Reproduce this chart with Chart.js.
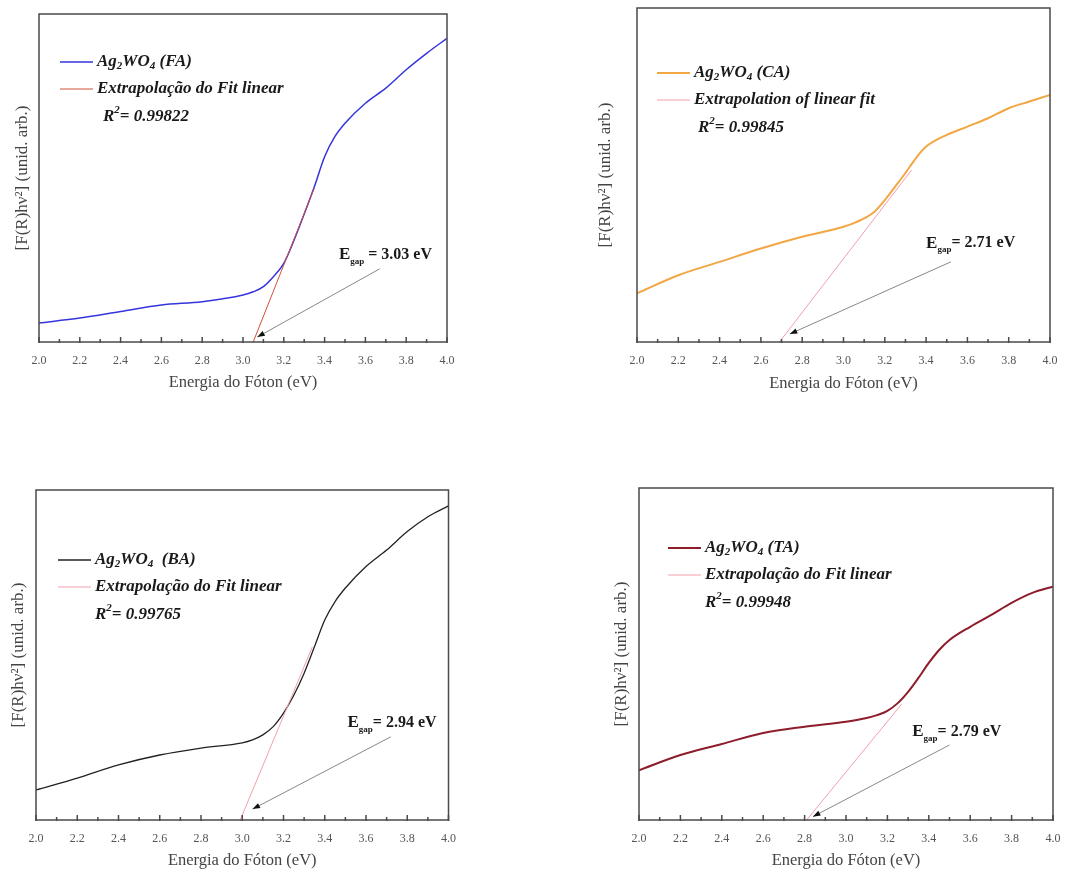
<!DOCTYPE html>
<html>
<head>
<meta charset="utf-8">
<title>Ag2WO4 - Tauc</title>
<script src="https://cdn.jsdelivr.net/npm/chart.js"></script>
<style>
  body { margin: 0; background: #fff; width: 1065px; height: 876px; position: relative; overflow: hidden; }
  canvas { position: absolute; }
</style>
</head>
<body>
<canvas id="cFA" width="460" height="400" style="left:0;top:0"></canvas>
<canvas id="cCA" width="485" height="400" style="left:580px;top:0"></canvas>
<canvas id="cBA" width="460" height="416" style="left:0;top:460px"></canvas>
<canvas id="cTA" width="485" height="416" style="left:580px;top:460px"></canvas>
<script>
// eixo x comum (eV)
const energyTicks = [2.0, 2.2, 2.4, 2.6, 2.8, 3.0, 3.2, 3.4, 3.6, 3.8, 4.0];

// FA
const faX = [2.0, 2.2, 2.4, 2.6, 2.8, 3.0, 3.05, 3.1, 3.15, 3.2, 3.25, 3.3, 3.35, 3.4, 3.45, 3.5, 3.6, 3.7, 3.8, 3.9, 4.0];
const faY = [5.8, 7.3, 9.3, 11.3, 12.3, 14.3, 15.3, 16.9, 20, 24, 31, 39, 47.4, 56.5, 62.6, 66.7, 72.8, 77.4, 83, 88, 92.6];
const faFitX = [3.05, 3.35];
const faFitY = [0, 47];
const faArrow = [[3.67, 22.3], [3.07, 1.5]];
const faLabelAt = [3.47, 26.5];

// CA
const caX = [2.0, 2.2, 2.4, 2.6, 2.8, 3.0, 3.05, 3.1, 3.15, 3.2, 3.25, 3.3, 3.35, 3.4, 3.45, 3.5, 3.6, 3.7, 3.8, 3.9, 4.0];
const caY = [14.6, 20, 24, 28, 31.5, 34.5, 35.6, 37, 39, 42.5, 46.5, 50.6, 55, 58.5, 60.5, 62, 64.5, 67, 70, 72, 74];
const caFitX = [2.69, 3.33];
const caFitY = [0, 51.5];
const caArrow = [[3.52, 24], [2.74, 2.4]];
const caLabelAt = [3.40, 29.6];

// BA
const baX = [2.0, 2.2, 2.4, 2.6, 2.8, 3.0, 3.05, 3.1, 3.15, 3.2, 3.25, 3.3, 3.35, 3.4, 3.45, 3.5, 3.6, 3.7, 3.8, 3.9, 4.0];
const baY = [9.1, 12.7, 16.7, 19.7, 21.8, 23.4, 24.3, 25.8, 28.3, 32.4, 37.8, 44.5, 52.5, 60.6, 66.2, 70.3, 76.8, 81.8, 87.4, 91.9, 95.2];
const baFitX = [2.99, 3.34];
const baFitY = [0, 52.5];
const baArrow = [[3.72, 25.2], [3.05, 3.3]];
const baLabelAt = [3.51, 29.4];

// TA
const taX = [2.0, 2.2, 2.4, 2.6, 2.8, 3.0, 3.1, 3.15, 3.2, 3.25, 3.3, 3.35, 3.4, 3.45, 3.5, 3.6, 3.7, 3.8, 3.9, 4.0];
const taY = [15, 19.6, 22.9, 26.2, 28.1, 29.6, 30.7, 31.6, 32.9, 35.2, 38.6, 42.8, 47.3, 51.2, 54.2, 58.2, 61.7, 65.4, 68.4, 70.3];
const taFitX = [2.81, 3.27];
const taFitY = [0, 35];
const taArrow = [[3.50, 22.6], [2.84, 1.0]];
const taLabelAt = [3.32, 26.6];

const SERIF = '"Liberation Serif", "Times New Roman", serif';
const bi = s => `italic bold ${s}px ${SERIF}`;
const bd = s => `bold ${s}px ${SERIF}`;

function pts(xs, ys) { return xs.map((v, i) => ({ x: v, y: ys[i] })); }

function drawRich(ctx, x, y, parts) {
  let cx = x;
  for (const p of parts) {
    ctx.font = p.f;
    ctx.fillText(p.t, cx, y + (p.dy || 0));
    cx += ctx.measureText(p.t).width;
  }
}

// moldura, ticks internos, legenda, R2, seta e rótulo do gap
const deco = {
  id: 'deco',
  afterDraw(chart, args, o) {
    const { ctx, chartArea: a, scales: { x, y } } = chart;
    ctx.save();
    ctx.strokeStyle = '#4a4a4a';
    ctx.lineWidth = 1.5;
    ctx.strokeRect(a.left, a.top, a.right - a.left, a.bottom - a.top);
    for (let v = 20; v <= 40; v++) {
      const px = x.getPixelForValue(v / 10);
      const len = v % 2 === 0 ? 5 : 3;
      ctx.beginPath();
      ctx.moveTo(px, a.bottom + 1);
      ctx.lineTo(px, a.bottom - len);
      ctx.stroke();
    }

    // legenda
    const ds = chart.data.datasets;
    const lx = a.left + o.leg[0], ly = a.top + o.leg[1];
    ctx.fillStyle = '#1a1a1a';
    ctx.textBaseline = 'middle';
    for (let i = 0; i < 2; i++) {
      const yy = ly + i * 27;
      ctx.strokeStyle = ds[i].borderColor;
      ctx.lineWidth = ds[i].borderWidth;
      ctx.beginPath();
      ctx.moveTo(lx, yy);
      ctx.lineTo(lx + 33, yy);
      ctx.stroke();
    }
    drawRich(ctx, lx + 37, ly, [
      { t: 'Ag', f: bi(17) }, { t: '2', f: bi(11), dy: 4 },
      { t: 'WO', f: bi(17) }, { t: '4', f: bi(11), dy: 4 },
      { t: o.tag, f: bi(17) }
    ]);
    drawRich(ctx, lx + 37, ly + 27, [{ t: o.fitText, f: bi(17) }]);
    drawRich(ctx, lx + o.r2dx, ly + 55, [
      { t: 'R', f: bi(17) }, { t: '2', f: bi(11), dy: -7 }, { t: o.r2, f: bi(17) }
    ]);

    // seta
    const x0 = x.getPixelForValue(o.arrow[0][0]), y0 = y.getPixelForValue(o.arrow[0][1]);
    const x1 = x.getPixelForValue(o.arrow[1][0]), y1 = y.getPixelForValue(o.arrow[1][1]);
    ctx.strokeStyle = '#888';
    ctx.lineWidth = 1;
    ctx.beginPath();
    ctx.moveTo(x0, y0);
    ctx.lineTo(x1, y1);
    ctx.stroke();
    const ang = Math.atan2(y1 - y0, x1 - x0);
    ctx.fillStyle = '#111';
    ctx.beginPath();
    ctx.moveTo(x1, y1);
    ctx.lineTo(x1 - 8 * Math.cos(ang - 0.35), y1 - 8 * Math.sin(ang - 0.35));
    ctx.lineTo(x1 - 8 * Math.cos(ang + 0.35), y1 - 8 * Math.sin(ang + 0.35));
    ctx.closePath();
    ctx.fill();

    // rótulo E_gap
    ctx.fillStyle = '#1a1a1a';
    drawRich(ctx, x.getPixelForValue(o.label[0]), y.getPixelForValue(o.label[1]), [
      { t: 'E', f: bd(17) }, { t: 'gap', f: bd(9), dy: 7 }, { t: o.egap, f: bd(16) }
    ]);
    ctx.restore();
  }
};

function makePanel(id, p) {
  new Chart(document.getElementById(id), {
    type: 'line',
    data: {
      datasets: [
        { data: pts(p.xs, p.ys), borderColor: p.color, borderWidth: p.width, pointRadius: 0,
          cubicInterpolationMode: 'monotone', order: 1 },
        { data: pts(p.fitX, p.fitY), borderColor: p.fitColor, borderWidth: 1, pointRadius: 0, order: 0 }
      ]
    },
    options: {
      responsive: false,
      animation: false,
      events: [],
      layout: { padding: p.pad },
      plugins: {
        legend: { display: false },
        tooltip: { enabled: false },
        deco: p.deco
      },
      scales: {
        x: {
          type: 'linear', min: 2, max: 4,
          afterBuildTicks: s => { s.ticks = energyTicks.map(v => ({ value: v })); },
          afterFit: s => { s.height = p.xh; },
          grid: { display: false },
          border: { display: false },
          ticks: { color: '#555', padding: 4, font: { family: SERIF, size: 12 }, maxRotation: 0,
                   callback: v => v.toFixed(1) },
          title: { display: true, text: 'Energia do Fóton (eV)', color: '#444',
                   font: { family: SERIF, size: 16.5 }, padding: { top: 0, bottom: p.xtp } }
        },
        y: {
          min: 0, max: 100,
          afterFit: s => { s.width = p.yw; },
          grid: { display: false },
          border: { display: false },
          ticks: { display: false },
          title: { display: true, text: '[F(R)hν²] (unid. arb.)', color: '#444',
                   font: { family: SERIF, size: 17 }, padding: { top: p.ytp, bottom: 0 } }
        }
      }
    },
    plugins: [deco]
  });
}

makePanel('cFA', {
  xs: faX, ys: faY, fitX: faFitX, fitY: faFitY, color: '#3535dd', width: 1.5, fitColor: '#d0503c',
  pad: { left: 0, top: 14, right: 13, bottom: 0 }, yw: 39, xh: 58, xtp: 7, ytp: 12,
  deco: { leg: [21, 48], tag: ' (FA)', fitText: 'Extrapolação do Fit linear', r2dx: 43, r2: '= 0.99822',
          arrow: faArrow, label: faLabelAt, egap: ' = 3.03 eV' }
});
makePanel('cCA', {
  xs: caX, ys: caY, fitX: caFitX, fitY: caFitY, color: '#f2a745', width: 2, fitColor: '#f0a0ac',
  pad: { left: 0, top: 8, right: 15, bottom: 0 }, yw: 57, xh: 58, xtp: 6, ytp: 15,
  deco: { leg: [20, 65], tag: ' (CA)', fitText: 'Extrapolation of linear fit', r2dx: 41, r2: '= 0.99845',
          arrow: caArrow, label: caLabelAt, egap: '= 2.71 eV' }
});
makePanel('cBA', {
  xs: baX, ys: baY, fitX: baFitX, fitY: baFitY, color: '#222', width: 1.3, fitColor: '#f2a0aa',
  pad: { left: 0, top: 30, right: 10, bottom: 0 }, yw: 36, xh: 56, xtp: 5, ytp: 8,
  deco: { leg: [22, 70], tag: '  (BA)', fitText: 'Extrapolação do Fit linear', r2dx: 37, r2: '= 0.99765',
          arrow: baArrow, label: baLabelAt, egap: '= 2.94 eV' }
});
makePanel('cTA', {
  xs: taX, ys: taY, fitX: taFitX, fitY: taFitY, color: '#8e1d2c', width: 2, fitColor: '#f0a0ac',
  pad: { left: 0, top: 28, right: 12, bottom: 0 }, yw: 59, xh: 56, xtp: 5, ytp: 31,
  deco: { leg: [29, 60], tag: ' (TA)', fitText: 'Extrapolação do Fit linear', r2dx: 37, r2: '= 0.99948',
          arrow: taArrow, label: taLabelAt, egap: '= 2.79 eV' }
});
</script>
</body>
</html>
